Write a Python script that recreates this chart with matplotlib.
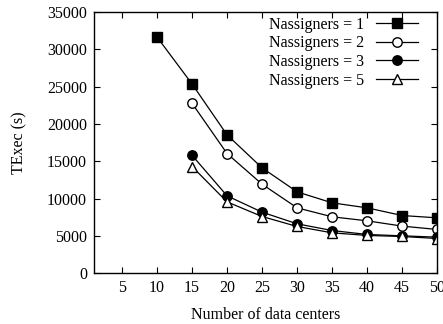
import numpy as np
import matplotlib.pyplot as plt

plt.rcParams['font.family'] = ['Liberation Serif', 'DejaVu Serif']
plt.rcParams['font.size'] = 11.5

x1 = [10, 15, 20, 25, 30, 35, 40, 45, 50]
n1 = [31650, 25360, 18530, 14110, 10890, 9420, 8750, 7720, 7410]
x2 = [15, 20, 25, 30, 35, 40, 45, 50]
n2 = [22770, 16030, 11920, 8750, 7550, 7010, 6300, 5850]
n3 = [15800, 10360, 8170, 6610, 5710, 5180, 5000, 4820]
n5 = [14290, 9550, 7590, 6250, 5400, 5050, 4910, 4640]

xticks = [5, 10, 15, 20, 25, 30, 35, 40, 45, 50]
yticks = np.arange(0, 35001, 5000)

fig = plt.figure(figsize=(4.43, 3.24), dpi=100)
ax = fig.add_axes([0.212, 0.157, 0.775, 0.806])

style = dict(color='black', lw=0.9)
ax.plot(x1, n1, marker='s', markersize=7.3, label='Nassigners = 1', **style)
ax.plot(x2, n2, marker='o', markersize=6.8, mfc='white', label='Nassigners = 2', **style)
ax.plot(x2, n3, marker='o', markersize=6.8, label='Nassigners = 3', **style)
ax.plot(x2, n5, marker='^', markersize=7, mfc='white', label='Nassigners = 5', **style)

ax.set_xlim(1, 50)
ax.set_ylim(0, 35000)
ax.set_xticks(xticks)
ax.set_yticks(yticks)
ax.tick_params(direction='in', top=True, right=True, length=4, width=0.8, pad=5)
for s in ax.spines.values():
    s.set_linewidth(1.0)

ax.set_xlabel('Number of data centers', labelpad=8)
ax.set_ylabel('TExec (s)', labelpad=14)

ax.legend(loc='upper right', bbox_to_anchor=(0.971, 1.019), frameon=False,
          markerfirst=False, handlelength=2.6, borderaxespad=0.2,
          labelspacing=0.17, handletextpad=0.75)

fig.savefig('out.png', dpi=100)
